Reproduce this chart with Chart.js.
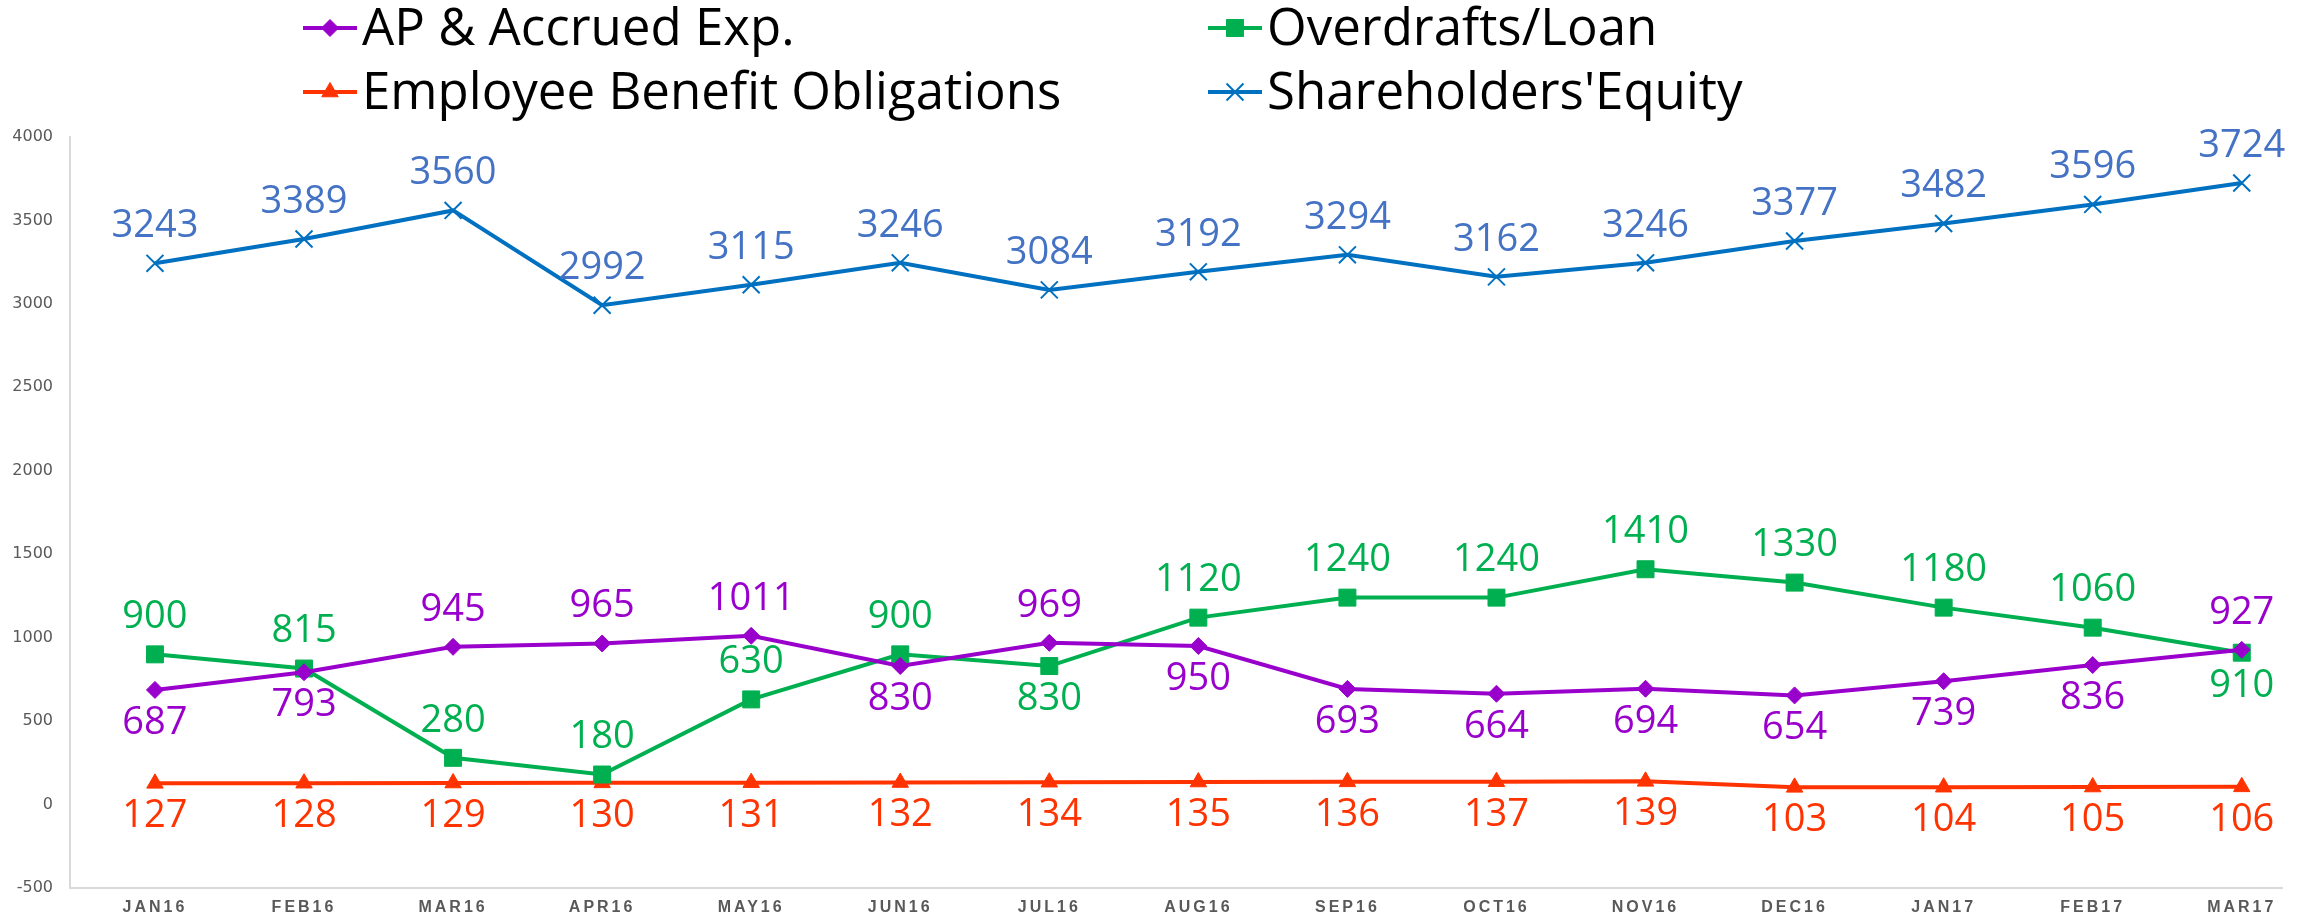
<!DOCTYPE html>
<html>
<head>
<meta charset="utf-8">
<script src="https://cdn.jsdelivr.net/npm/chart.js@4.4.1/dist/chart.umd.min.js"></script>
<style>
  html, body { margin: 0; padding: 0; background: #fff; }
  #wrap { width: 2316px; height: 915px; }
</style>
</head>
<body>
<div id="wrap"><canvas id="chart" width="2316" height="915"></canvas></div>
<script>
const months = ["JAN16", "FEB16", "MAR16", "APR16", "MAY16", "JUN16", "JUL16", "AUG16",
  "SEP16", "OCT16", "NOV16", "DEC16", "JAN17", "FEB17", "MAR17"];

const apAccrued = [687, 793, 945, 965, 1011, 830, 969, 950, 693, 664, 694, 654, 739, 836, 927];
const overdrafts = [900, 815, 280, 180, 630, 900, 830, 1120, 1240, 1240, 1410, 1330, 1180, 1060, 910];
const benefits = [127, 128, 129, 130, 131, 132, 134, 135, 136, 137, 139, 103, 104, 105, 106];
const equity = [3243, 3389, 3560, 2992, 3115, 3246, 3084, 3192, 3294, 3162, 3246, 3377, 3482, 3596, 3724];

const yMin = -500, yMax = 4000, yStep = 500;

// which side of the point the value label sits on
const apSide = ["below", "below", "above", "above", "above", "below", "above", "below",
  "below", "below", "below", "below", "below", "below", "above"];
const odSide = ["above", "above", "above", "above", "above", "above", "below", "above",
  "above", "above", "above", "above", "above", "above", "below"];
const benSide = months.map(() => "below");
const eqSide = months.map(() => "above");

const series = [
  { label: "AP & Accrued Exp.", data: apAccrued, color: "#9900CC", text: "#9900CC", style: "rectRot", r: 8.5, side: apSide },
  { label: "Overdrafts/Loan", data: overdrafts, color: "#00B050", text: "#00B050", style: "rect", r: 12, side: odSide },
  { label: "Employee Benefit Obligations", data: benefits, color: "#FF3300", text: "#FF3300", style: "triangle", r: 9.5, side: benSide },
  { label: "Shareholders'Equity", data: equity, color: "#0070C0", text: "#4472C4", style: "crossRot", r: 12, side: eqSide }
];

// value labels above / below each point
const valueLabels = {
  id: "valueLabels",
  afterDatasetsDraw(chart) {
    const ctx = chart.ctx;
    ctx.save();
    ctx.font = "38px 'Open Sans'";
    ctx.textAlign = "center";
    ctx.textBaseline = "middle";
    chart.data.datasets.forEach((ds, di) => {
      const meta = chart.getDatasetMeta(di);
      ctx.fillStyle = ds.labelColor;
      meta.data.forEach((pt, i) => {
        const dy = ds.labelSide[i] === "above" ? -37 : 33;
        ctx.fillText(String(ds.data[i].y), pt.x, pt.y + dy);
      });
    });
    ctx.restore();
  }
};

// legend in a 2 x 2 grid at the top
const gridLegend = {
  id: "gridLegend",
  afterDraw(chart, args, opts) {
    const ctx = chart.ctx;
    ctx.save();
    chart.data.datasets.forEach((ds, i) => {
      const x = opts.cols[i % 2];
      const y = opts.rows[Math.floor(i / 2)];
      ctx.strokeStyle = ds.borderColor;
      ctx.fillStyle = ds.borderColor;
      ctx.lineWidth = 4;
      ctx.beginPath();
      ctx.moveTo(x, y);
      ctx.lineTo(x + 54, y);
      ctx.stroke();
      ctx.lineWidth = ds.pointBorderWidth;
      Chart.helpers.drawPoint(ctx, { pointStyle: ds.pointStyle, radius: ds.pointRadius, rotation: 0, borderWidth: ds.pointBorderWidth }, x + 27, y);
      ctx.fillStyle = "#000";
      ctx.font = "51px 'Open Sans'";
      ctx.textBaseline = "alphabetic";
      ctx.fillText(ds.label, x + 59, y + 17);
    });
    ctx.restore();
  }
};

// spaced out x axis labels
const spacedTicks = {
  id: "spacedTicks",
  beforeDraw(chart) {
    const sc = chart.scales.x;
    if (sc._spaced) return;
    const orig = sc.drawLabels.bind(sc);
    sc.drawLabels = function (area) {
      const prev = chart.ctx.letterSpacing;
      chart.ctx.letterSpacing = "3px";
      orig(area);
      chart.ctx.letterSpacing = prev || "0px";
    };
    sc._spaced = true;
  }
};

new Chart(document.getElementById("chart"), {
  type: "line",
  data: {
    datasets: series.map(s => ({
      label: s.label,
      data: s.data.map((v, i) => ({ x: i, y: v })),
      borderColor: s.color,
      backgroundColor: s.color,
      borderWidth: 4,
      tension: 0,
      pointStyle: s.style,
      pointRadius: s.r,
      pointHoverRadius: s.r,
      pointBorderWidth: s.style === "crossRot" ? 2 : 1,
      labelColor: s.text,
      labelSide: s.side
    }))
  },
  options: {
    responsive: false,
    animation: false,
    devicePixelRatio: 1,
    layout: { padding: { top: 137, right: 34, left: 0, bottom: 0 } },
    plugins: {
      legend: { display: false },
      tooltip: { enabled: false },
      gridLegend: { cols: [303, 1208], rows: [28, 92] }
    },
    scales: {
      x: {
        type: "linear",
        min: -0.57,
        max: 14.27,
        grid: { display: false },
        border: { display: true, color: "#d9d9d9", width: 2 },
        ticks: {
          stepSize: 1,
          autoSkip: false,
          maxRotation: 0,
          padding: 2,
          color: "#595959",
          font: { family: "'Liberation Sans'", size: 16, weight: "bold" },
          callback: v => months[v] || ""
        },
        afterBuildTicks: s => { s.ticks = months.map((m, i) => ({ value: i })); },
        afterFit: s => { s.height = 27; }
      },
      y: {
        min: yMin,
        max: yMax,
        grid: { display: false },
        border: { display: true, color: "#d9d9d9", width: 2 },
        ticks: {
          stepSize: yStep,
          padding: 9,
          color: "#595959",
          font: { family: "'DejaVu Sans'", size: 16 },
          callback: v => String(v)
        },
        afterFit: s => { s.width = 70; }
      }
    }
  },
  plugins: [valueLabels, gridLegend, spacedTicks]
});
</script>
</body>
</html>
